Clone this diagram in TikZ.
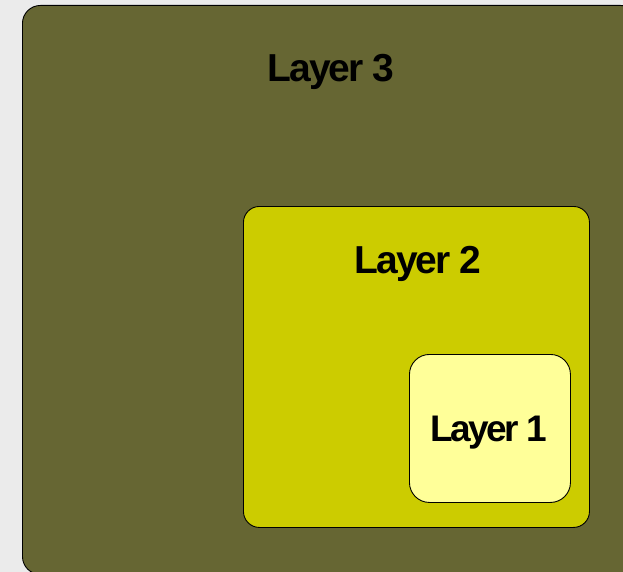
\documentclass[tikz,border=0pt]{standalone}
\usepackage{fontspec}
\setmainfont{Liberation Sans}
\usepackage{tikz}
\usetikzlibrary{positioning}
\usepackage{xcolor}
\definecolor{bgGray}{HTML}{EBEBEB}
\definecolor{layerThree}{HTML}{666633}
\definecolor{layerTwo}{HTML}{CCCC00}
\definecolor{layerOne}{HTML}{FFFF99}

\begin{document}
\begin{tikzpicture}[
    x=1pt, y=-1pt,
    layerbox/.style={rectangle, draw=black, line width=0.9pt, inner sep=0pt, anchor=north west},
    layertext/.style={anchor=base, inner sep=0pt, font=\fontsize{39}{44}\selectfont\bfseries\addfontfeature{LetterSpace=-5}},
]
    \fill[bgGray] (0,0) rectangle (623,572);
    \useasboundingbox (0,0) rectangle (623,572);
    \clip (0,0) rectangle (623,572);

    \node[layerbox, fill=layerThree, rounded corners=18pt, minimum width=616pt, minimum height=569pt] (l3) at (22,5) {};
    \node[layerbox, fill=layerTwo, rounded corners=16pt, minimum width=346pt, minimum height=321pt] (l2) at (243,206) {};
    \node[layerbox, fill=layerOne, rounded corners=20pt, minimum width=161pt, minimum height=148pt] (l1) at (409,354) {};

    \node[layertext] (l3label) at (331,82) {Layer 3};
    \node[layertext] (l2label) at (418,273) {Layer 2};
    \node[layertext, font=\fontsize{37}{42}\selectfont\bfseries\addfontfeature{LetterSpace=-7}] (l1label) at (489,441) {Layer 1};
\end{tikzpicture}
\end{document}
